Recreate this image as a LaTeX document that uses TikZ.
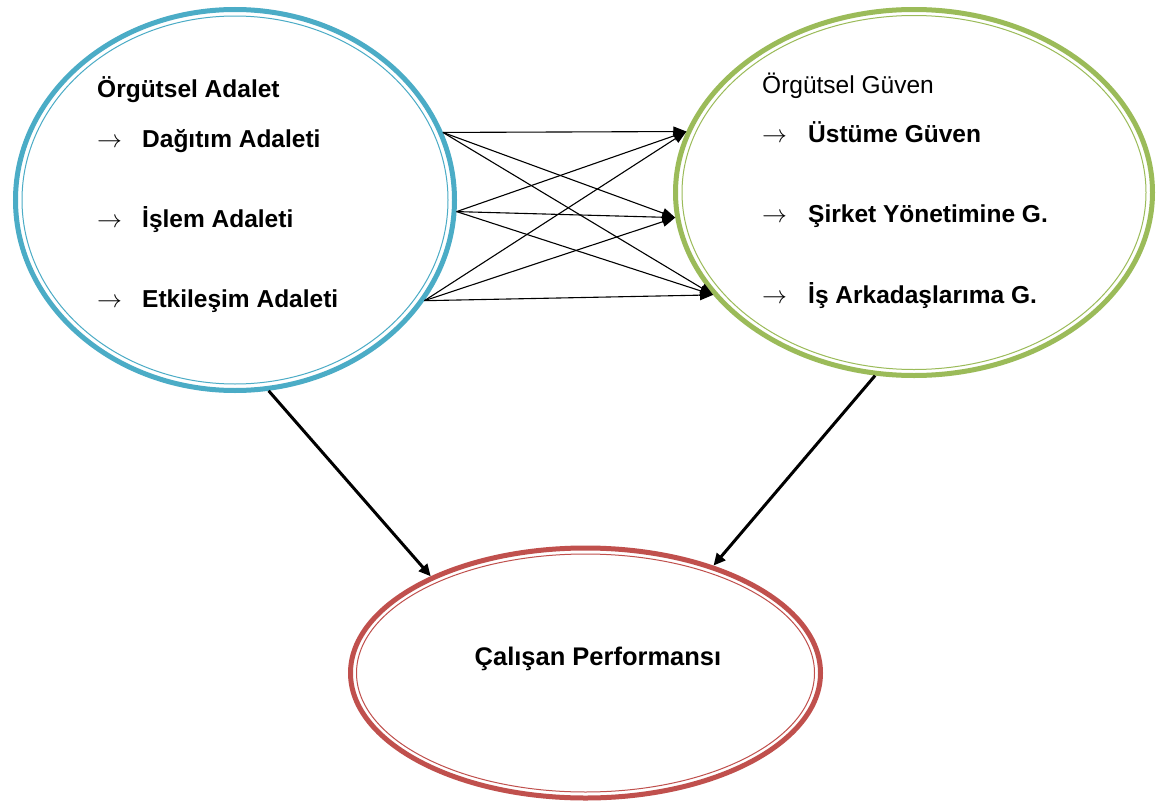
\documentclass[tikz,border=0pt]{standalone}
\usepackage{fontspec}
\setmainfont{Liberation Sans}
\usetikzlibrary{arrows.meta,shapes.geometric}
\definecolor{aqua}{HTML}{4BACC6}
\definecolor{olive}{HTML}{9BBB59}
\definecolor{brick}{HTML}{C0504D}
\tikzset{
	ring/.style={ellipse, draw=#1, line width=5pt, inner sep=0pt},
	inner ring/.style={draw=#1, line width=1pt},
	item/.style={anchor=base west, inner sep=0pt, font=\fontsize{24.5}{29}\selectfont\bfseries},
	title/.style={item, font=\fontsize{24.5}{29}\selectfont},
	link/.style={-{Triangle[length=13pt, width=10pt]}, line width=1.1pt},
	flow/.style={-{Triangle[length=12pt, width=11pt]}, line width=3pt}
}
\begin{document}
\begin{tikzpicture}[x=1pt, y=-1pt]
	\useasboundingbox[fill=white] (0,0) rectangle (1160,803);
	\node[ring=aqua, minimum width=439pt, minimum height=381pt] (adalet) at (235,200) {};
	\node[ring=olive, minimum width=477pt, minimum height=366pt] (guven) at (914,192.5) {};
	\node[ring=brick, minimum width=470pt, minimum height=250pt] (perf) at (585.5,673) {};
	\draw[inner ring=aqua] (adalet.center) ellipse (213pt and 184pt);
	\draw[inner ring=olive] (guven.center) ellipse (232pt and 177pt);
	\draw[inner ring=brick] (perf.center) ellipse (229pt and 119pt);

	\node[item] (adaletT) at (97,97) {Örgütsel Adalet};
	\node[item] (dagitim) at (97,147) {\makebox[45pt][l]{$\rightarrow$}Dağıtım Adaleti};
	\node[item] (islem) at (97,227) {\makebox[45pt][l]{$\rightarrow$}İşlem Adaleti};
	\node[item] (etkilesim) at (97,307) {\makebox[45pt][l]{$\rightarrow$}Etkileşim Adaleti};

	\node[title] (guvenT) at (762,93) {Örgütsel Güven};
	\node[item] (ustume) at (762,142) {\makebox[46pt][l]{$\rightarrow$}Üstüme Güven};
	\node[item] (sirket) at (762,222) {\makebox[46pt][l]{$\rightarrow$}Şirket Yönetimine G.};
	\node[item] (arkadas) at (762,303) {\makebox[46pt][l]{$\rightarrow$}İş Arkadaşlarıma G.};

	\node[item, anchor=base, font=\fontsize{25.5}{30}\selectfont\bfseries] (perfT) at (598,665) {Çalışan Performansı};

	\foreach \a in {18.6,-3.9,-28.5}
		\foreach \b in {165,-174.6,-153.2}
			\draw[link] (adalet.\a) -- (guven.\b);

	\draw[flow] (adalet.-80.9) -- (perf.148.5);
	\draw[flow] (guven.-102.5) -- (perf.40);
\end{tikzpicture}
\end{document}
